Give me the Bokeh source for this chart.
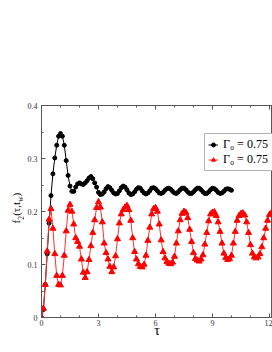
import math
from bokeh.plotting import figure
from bokeh.layouts import row
from bokeh.models import Range1d, FixedTicker, LinearAxis, Label, Legend, LegendItem
from bokeh.embed import file_html
from bokeh.resources import INLINE

# ---- data ----
tau_black = [0.0, 0.1, 0.2, 0.3, 0.4, 0.5, 0.6, 0.7, 0.8, 0.9,
             1.0, 1.1, 1.2, 1.3, 1.4, 1.5, 1.6, 1.7, 1.8, 1.9,
             2.0, 2.1, 2.2, 2.3, 2.4, 2.5, 2.6, 2.7, 2.8, 2.9,
             3.0, 3.1, 3.2, 3.3, 3.4, 3.5, 3.6, 3.7, 3.8, 3.9,
             4.0, 4.1, 4.2, 4.3, 4.4, 4.5, 4.6, 4.7, 4.8, 4.9,
             5.0, 5.1, 5.2, 5.3, 5.4, 5.5, 5.6, 5.7, 5.8, 5.9,
             6.0, 6.1, 6.2, 6.3, 6.4, 6.5, 6.6, 6.7, 6.8, 6.9,
             7.0, 7.1, 7.2, 7.3, 7.4, 7.5, 7.6, 7.7, 7.8, 7.9,
             8.0, 8.1, 8.2, 8.3, 8.4, 8.5, 8.6, 8.7, 8.8, 8.9,
             9.0, 9.1, 9.2, 9.3, 9.4, 9.5, 9.6, 9.7, 9.8, 9.9,
             10.0]
f2_black = [0.000, 0.015, 0.062, 0.120, 0.178, 0.230, 0.271, 0.301, 0.325, 0.342,
            0.347, 0.342, 0.325, 0.296, 0.268, 0.248, 0.238, 0.238, 0.246, 0.252,
            0.254, 0.252, 0.251, 0.254, 0.258, 0.263, 0.266, 0.262, 0.254, 0.246,
            0.236, 0.232, 0.233, 0.237, 0.243, 0.247, 0.245, 0.240, 0.235, 0.233,
            0.234, 0.239, 0.245, 0.248, 0.246, 0.241, 0.235, 0.232, 0.233, 0.237,
            0.242, 0.245, 0.244, 0.239, 0.235, 0.233, 0.235, 0.239, 0.244, 0.245,
            0.243, 0.239, 0.235, 0.234, 0.236, 0.240, 0.243, 0.244, 0.242, 0.238,
            0.235, 0.234, 0.237, 0.241, 0.244, 0.244, 0.241, 0.237, 0.234, 0.234,
            0.237, 0.241, 0.244, 0.244, 0.241, 0.237, 0.234, 0.234, 0.237, 0.241,
            0.244, 0.243, 0.240, 0.236, 0.234, 0.235, 0.238, 0.242, 0.243, 0.242,
            0.240]

tau_red = [0.0, 0.1, 0.2, 0.3, 0.4, 0.5, 0.6, 0.7, 0.8, 0.9,
           1.0, 1.1, 1.2, 1.3, 1.4, 1.5, 1.6, 1.7, 1.8, 1.9,
           2.0, 2.1, 2.2, 2.3, 2.4, 2.5, 2.6, 2.7, 2.8, 2.9,
           3.0, 3.1, 3.2, 3.3, 3.4, 3.5, 3.6, 3.7, 3.8, 3.9,
           4.0, 4.1, 4.2, 4.3, 4.4, 4.5, 4.6, 4.7, 4.8, 4.9,
           5.0, 5.1, 5.2, 5.3, 5.4, 5.5, 5.6, 5.7, 5.8, 5.9,
           6.0, 6.1, 6.2, 6.3, 6.4, 6.5, 6.6, 6.7, 6.8, 6.9,
           7.0, 7.1, 7.2, 7.3, 7.4, 7.5, 7.6, 7.7, 7.8, 7.9,
           8.0, 8.1, 8.2, 8.3, 8.4, 8.5, 8.6, 8.7, 8.8, 8.9,
           9.0, 9.1, 9.2, 9.3, 9.4, 9.5, 9.6, 9.7, 9.8, 9.9,
           10.0, 10.1, 10.2, 10.3, 10.4, 10.5, 10.6, 10.7, 10.8, 10.9,
           11.0, 11.1, 11.2, 11.3, 11.4, 11.5, 11.6, 11.7, 11.8, 11.9,
           12.0, 12.1]
f2_red = [0.000, 0.017, 0.062, 0.125, 0.185, 0.205, 0.168, 0.120, 0.079, 0.062,
          0.061, 0.079, 0.117, 0.163, 0.202, 0.213, 0.200, 0.176, 0.150, 0.143,
          0.134, 0.110, 0.085, 0.075, 0.086, 0.109, 0.135, 0.160, 0.184, 0.207,
          0.218, 0.208, 0.180, 0.140, 0.122, 0.110, 0.096, 0.086, 0.095, 0.116,
          0.148, 0.178, 0.195, 0.203, 0.208, 0.211, 0.203, 0.183, 0.150, 0.124,
          0.110, 0.101, 0.096, 0.095, 0.100, 0.117, 0.145, 0.170, 0.195, 0.205,
          0.207, 0.200, 0.176, 0.146, 0.124, 0.112, 0.105, 0.102, 0.101, 0.104,
          0.115, 0.140, 0.163, 0.184, 0.196, 0.200, 0.198, 0.188, 0.166, 0.143,
          0.122, 0.111, 0.108, 0.106, 0.110, 0.118, 0.138, 0.160, 0.182, 0.195,
          0.198, 0.199, 0.192, 0.180, 0.162, 0.140, 0.121, 0.113, 0.109, 0.111,
          0.117, 0.140, 0.162, 0.183, 0.192, 0.196, 0.197, 0.193, 0.180, 0.160,
          0.137, 0.121, 0.114, 0.112, 0.114, 0.120, 0.133, 0.150, 0.168, 0.183,
          0.194, 0.197]

legend_labels = ["\u0393\u2080 = 0.75", "\u0393\u2080 = 0.75"]
x_ticks = [0, 3, 6, 9, 12]
x_tick_labels = ["0", "3", "6", "9", "12"]
y_ticks = [0.0, 0.1, 0.2, 0.3, 0.4]
y_tick_labels = ["0", "0.1", "0.2", "0.3", "0.4"]
y_label_parts = ["f", "2", "(\u03c4,t", "w", ")"]

SERIF = "Liberation Serif"
AX = "#555555"
H = 350
LW = 24  # width of the strip holding the y label
TOP, BOT = 105, 317  # frame edges in page pixels

yr = Range1d(0, 0.4)
p = figure(width=272 - LW, height=H, output_backend="svg", toolbar_location=None,
           x_range=Range1d(0, 12.16), y_range=yr,
           min_border_left=41 - LW, min_border_right=0, min_border_top=TOP,
           min_border_bottom=H - BOT, x_axis_label="\u03c4")
p.grid.visible = False
p.outline_line_color = AX
p.background_fill_color = "white"
p.border_fill_color = "white"

def minor_of(ticks, n):
    out = []
    for a, b in zip(ticks[:-1], ticks[1:]):
        for k in range(1, n):
            out.append(a + (b - a) * k / n)
    return out

xt = FixedTicker(ticks=x_ticks, minor_ticks=minor_of(x_ticks, 3))
yt = FixedTicker(ticks=y_ticks, minor_ticks=minor_of(y_ticks, 2))

def style(ax, ticker, labels, show_labels=True):
    ax.ticker = ticker
    ax.axis_line_color = AX
    ax.major_tick_line_color = AX
    ax.minor_tick_line_color = AX
    ax.major_tick_in = 4
    ax.major_tick_out = 0
    ax.minor_tick_in = 2
    ax.minor_tick_out = 0
    ax.major_label_text_font = SERIF
    ax.major_label_text_font_size = "8px"
    ax.major_label_text_color = "#333333"
    ax.major_label_standoff = 2
    if show_labels:
        ax.major_label_overrides = {t: l for t, l in zip(ticker.ticks, labels)}
    else:
        ax.major_label_overrides = {t: "" for t in ticker.ticks}

style(p.xaxis[0], xt, x_tick_labels)
style(p.yaxis[0], yt, y_tick_labels)
p.xaxis[0].axis_label_text_font = SERIF
p.xaxis[0].axis_label_text_font_style = "normal"
p.xaxis[0].axis_label_text_font_size = "14px"
p.xaxis[0].axis_label_text_color = "black"
p.xaxis[0].axis_label_standoff = -6
p.yaxis[0].major_label_standoff = 4

top = LinearAxis()
style(top, FixedTicker(ticks=x_ticks, minor_ticks=minor_of(x_ticks, 3)), x_tick_labels, False)
p.add_layout(top, "above")

# series
lb = p.line(tau_black, f2_black, line_color="black", line_width=1)
sb = p.scatter(tau_black, f2_black, marker="circle", size=4, fill_color="black", line_color="black")
lr = p.line(tau_red, f2_red, line_color="#ff3030", line_width=1)
sr = p.scatter(tau_red, f2_red, marker="triangle", size=6, fill_color="#ff0000", line_color="#ff0000")

legend = Legend(items=[LegendItem(label=legend_labels[0], renderers=[lb, sb]),
                       LegendItem(label=legend_labels[1], renderers=[lr, sr])],
                location=(163, 146))
legend.label_text_font = SERIF
legend.label_text_font_size = "12px"
legend.label_text_color = "black"
legend.border_line_color = "#666666"
legend.background_fill_color = "white"
legend.background_fill_alpha = 1
legend.padding = 3
legend.spacing = 0
legend.margin = 0
legend.label_height = 15
legend.label_width = 58
legend.glyph_height = 15
legend.glyph_width = 10
legend.label_standoff = 5
p.add_layout(legend, "center")

# narrow strip (frame aligned with the main frame) holding the rotated y label
lf = figure(width=LW, height=H, output_backend="svg", toolbar_location=None,
            title=None, x_axis_type=None, y_axis_type=None,
            x_range=Range1d(0, LW), y_range=yr,
            min_border_left=0, min_border_right=0, min_border_top=TOP,
            min_border_bottom=H - BOT)
lf.outline_line_color = None
lf.background_fill_color = "white"
lf.border_fill_color = "white"

def ydata(py):
    return (BOT - py) / (BOT - TOP) * 0.4

ang = math.pi / 2
# (page-y centre, x centre, font size) for each piece
pos = [(221.2, 15.5, "11px"), (217.4, 20.0, "7.5px"), (208.4, 15.5, "11px"),
       (198.6, 20.0, "7.5px"), (194.1, 15.5, "11px")]
for txt, (py, xc, fs) in zip(y_label_parts, pos):
    lf.add_layout(Label(x=xc, y=ydata(py), text=txt, angle=ang,
                        text_font=SERIF, text_font_size=fs, text_color="black",
                        text_align="center", text_baseline="middle"))

layout = row(lf, p, spacing=0)
open("out.html", "w").write(file_html(layout, INLINE))
